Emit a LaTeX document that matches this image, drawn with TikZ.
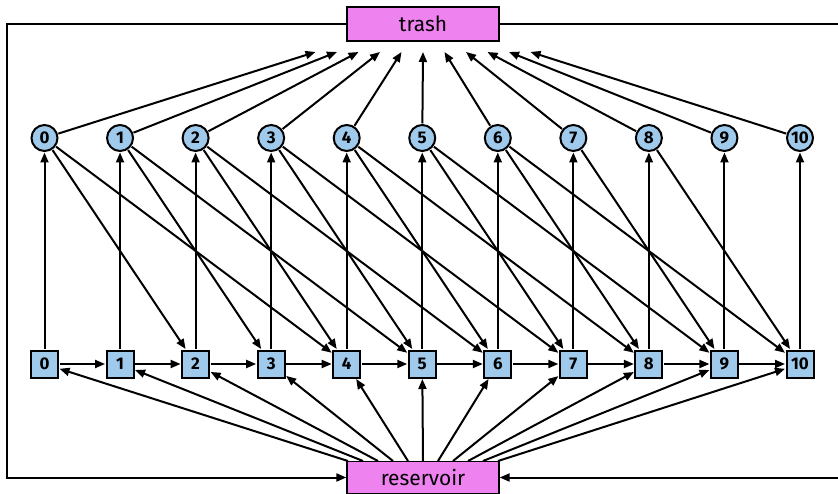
\documentclass[tikz,border=0pt]{standalone}
\usepackage{fontspec}
\setmainfont{Fira Sans}
\usetikzlibrary{arrows.meta}
\definecolor{nodeblue}{RGB}{160,202,236}
\definecolor{boxpink}{RGB}{238,130,238}
\begin{document}
\begin{tikzpicture}[x=1bp,y=-1bp,
  lw/.style={line width=2bp},
  arr/.style={lw, -{Triangle[length=10bp,width=8bp]}},
  sq/.style={draw, lw, fill=nodeblue, minimum size=27bp, inner sep=0pt, outer sep=1.5bp, font=\bfseries\fontsize{17}{17}\selectfont},
  cir/.style={circle, draw, lw, fill=nodeblue, minimum size=26bp, inner sep=0pt, outer sep=1.5bp, font=\bfseries\fontsize{17}{17}\selectfont},
  big/.style={draw, line width=1.3bp, fill=boxpink, minimum width=152bp, minimum height=34bp, inner sep=0pt, font=\fontsize{21}{21}\selectfont}
]
\useasboundingbox (0,0) rectangle (838,494);
\node[big] (trash) at (423,24) {trash};
\node[big, minimum height=32bp] (res) at (423,477.5) {reservoir};
\foreach \i in {0,...,10} {
  \node[cir] (c\i) at ({44.5+75.55*\i},138) {\i};
  \node[sq] (s\i) at ({44.5+75.55*\i},364) {\i};
  \coordinate (t\i) at ({423+21.5*(\i-5)},52);
  \coordinate (r\i) at ({423+15*(\i-5)},461);
}
\coordinate (lb) at (6.5,477.5);
\coordinate (rb) at (850,477.5);
\draw[arr] (trash.west) -| (lb) -- (res.west);
\draw[arr] (trash.east) -| (rb) -- (res.east);
\foreach \i in {0,...,10} {
  \draw[arr] (s\i) -- (c\i);
  \draw[arr] (c\i) -- (t\i);
  \draw[arr] (r\i) -- (s\i);
}
\foreach \i [evaluate=\i as \j using int(\i+1)] in {0,...,9} \draw[arr] (s\i) -- (s\j);
\foreach \i [evaluate=\i as \j using int(\i+2)] in {0,...,8} \draw[arr] (c\i) -- (s\j);
\foreach \i [evaluate=\i as \j using int(\i+4)] in {0,...,6} \draw[arr] (c\i) -- (s\j);
\end{tikzpicture}
\end{document}
